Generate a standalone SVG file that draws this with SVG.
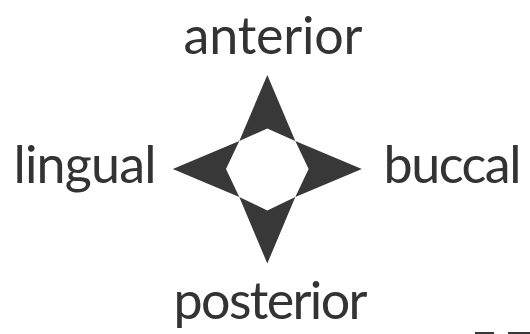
<svg xmlns="http://www.w3.org/2000/svg" width="530" height="334" viewBox="0 0 530 334">
  <style>
    .lbl { font-family: Lato, "Open Sans", "Liberation Sans", sans-serif; font-size: 52px; fill: #333333; text-anchor: middle; }
    .star { fill: #383838; fill-rule: evenodd; }
  </style>
  <rect width="530" height="334" fill="#ffffff"/>
  <g id="connectors">
    <path id="compass" class="star" d="M267.3,75 L295.3,141 L361.8,169 L295.3,197 L267.3,263.5 L239.3,197 L172.8,169 L239.3,141 Z M267.3,128.5 L239.3,141 L226,169 L239.3,197 L267.3,210.5 L295.3,197 L308.6,169 L295.3,141 Z"/>
  </g>
  <g id="anterior"><text class="lbl" x="273" y="54" textLength="179" lengthAdjust="spacing">anterior</text></g>
  <g id="lingual"><text class="lbl" x="85" y="183" textLength="143" lengthAdjust="spacing">lingual</text></g>
  <g id="buccal"><text class="lbl" x="452.5" y="183" textLength="138" lengthAdjust="spacing">buccal</text></g>
  <g id="posterior"><text class="lbl" x="270.5" y="319" textLength="194" lengthAdjust="spacing">posterior</text></g>
  <rect x="475" y="332" width="19" height="2" fill="#383838"/>
  <rect x="508" y="332" width="22" height="2" fill="#383838"/>
</svg>
